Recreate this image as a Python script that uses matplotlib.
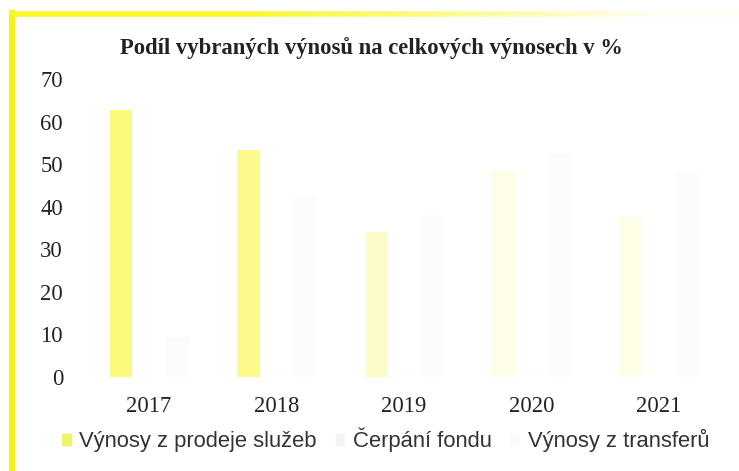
import numpy as np
from matplotlib import pyplot as plt
from matplotlib.collections import LineCollection

years = ["2017", "2018", "2019", "2020", "2021"]
prodej_sluzeb = [62.7, 53.3, 34.1, 48.6, 37.6]
cerpani_fondu = [0.5, 1.0, 1.0, 1.0, 0.5]
transfery = [9.4, 42.3, 38.0, 52.6, 47.9]
series_names = ["Výnosy z prodeje služeb", "Čerpání fondu", "Výnosy z transferů"]

# washed-out scan: colours fade towards the right
yellow_shades = ["#fbfa7c", "#fbfa8a", "#fdfcc8", "#fefee8", "#fefee6"]

fig = plt.figure(figsize=(7.39, 4.71), dpi=100)
fig.patch.set_facecolor("white")

# yellow frame (left bar + top line fading out)
fig.add_artist(plt.Line2D([0.0156, 0.0156], [0.0, 0.972], color="#f4f21c", lw=4.5,
                          transform=fig.transFigure))
xs = np.linspace(0.012, 1.0, 80)
segs = [[(xs[i], 0.970), (xs[i + 1], 0.970)] for i in range(len(xs) - 1)]
fade = np.linspace(0, 1, len(segs))
alphas = np.clip(1.0 - np.clip(fade - 0.3, 0, 1) * 1.6, 0.05, 1.0)
cols = [(0.98, 0.97, 0.15, a) for a in alphas]
fig.add_artist(LineCollection(segs, colors=cols, linewidths=4, transform=fig.transFigure))

ax = fig.add_axes([0.1154, 0.1996, 0.8627, 0.6327])
x = np.arange(len(years))
w = 0.18
ax.bar(x - 0.22, prodej_sluzeb, w, color=yellow_shades, label=series_names[0])
ax.bar(x, cerpani_fondu, w, color="#fefefe", label=series_names[1])
ax.bar(x + 0.22, transfery, w, color="#fdfcfd", label=series_names[2])

ax.set_xlim(-0.5, 4.5)
ax.set_ylim(0, 70)
ax.set_yticks(range(0, 71, 10))
ax.set_xticks(x)
ax.set_xticklabels(years)
for s in ax.spines.values():
    s.set_visible(False)
ax.tick_params(length=0, labelsize=16.3, colors="#222222")
ax.tick_params(axis="y", pad=16)
ax.tick_params(axis="x", pad=14)
for lab in ax.get_xticklabels() + ax.get_yticklabels():
    lab.set_family("Liberation Serif")

fig.text(0.503, 0.897, "Podíl vybraných výnosů na celkových výnosech v %",
         ha="center", va="center", family="Liberation Serif", weight="bold",
         size=16.3, color="#222222")

handles = [plt.Rectangle((0, 0), 1, 1, color="#eef56a"),
           plt.Rectangle((0, 0), 1, 1, color="#f4f4f4"),
           plt.Rectangle((0, 0), 1, 1, color="#fafafa")]
leg = fig.legend(handles, series_names, loc="center", bbox_to_anchor=(0.522, 0.066),
                 ncol=3, frameon=False, handlelength=0.4, handleheight=0.4,
                 handletextpad=0.4, columnspacing=0.85, borderpad=0,
                 prop={"family": "Liberation Sans", "size": 15.8})
for t in leg.get_texts():
    t.set_color("#333333")

fig.savefig("out.png", dpi=100, facecolor="white")
